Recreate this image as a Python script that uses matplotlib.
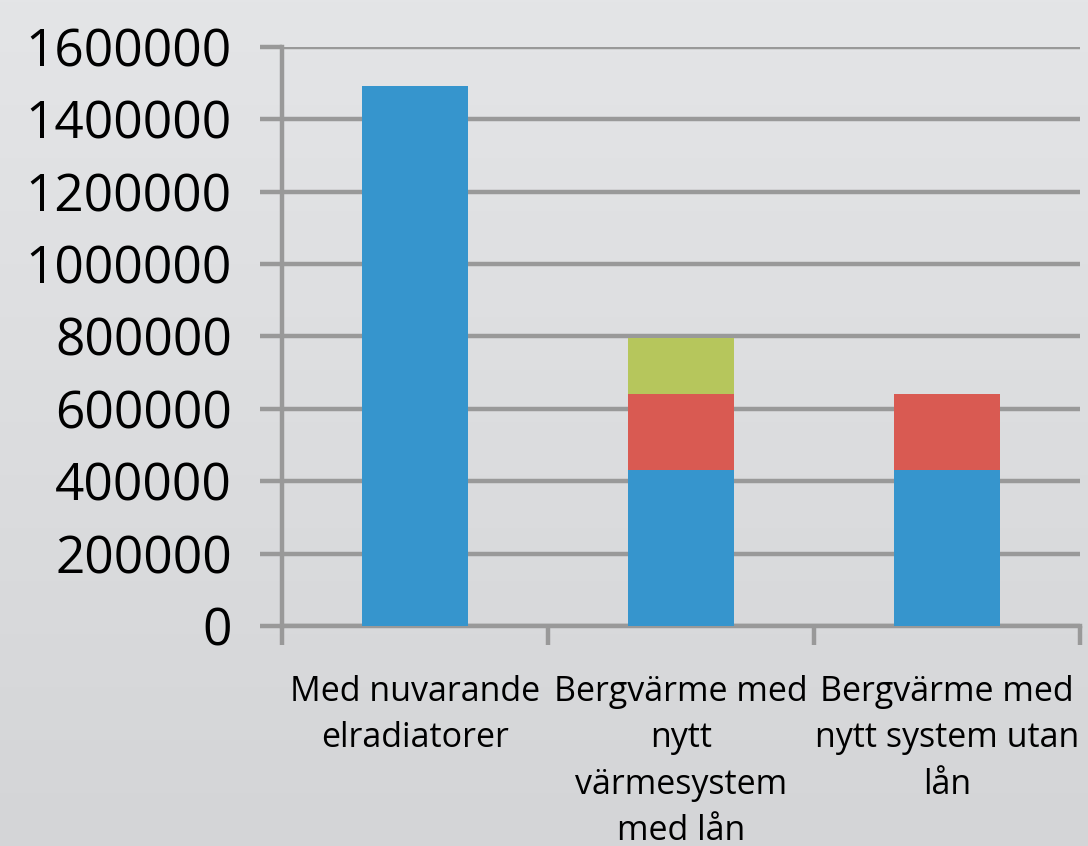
import numpy as np
import matplotlib
matplotlib.use("Agg")
import matplotlib.pyplot as plt
from matplotlib.colors import LinearSegmentedColormap

categories = ["Med nuvarande\nelradiatorer",
              "Bergvärme med\nnytt\nvärmesystem\nmed lån",
              "Bergvärme med\nnytt system utan\nlån"]
blue_vals = [1492000, 430000, 430000]
red_vals = [0, 212000, 212000]
green_vals = [0, 155000, 0]
yticks = [0, 200000, 400000, 600000, 800000, 1000000, 1200000, 1400000, 1600000]

plt.rcParams['font.family'] = ['Open Sans', 'DejaVu Sans']

W, H = 1088, 846
fig = plt.figure(figsize=(W / 100, H / 100), dpi=100)

# background gradient
bg = fig.add_axes([0, 0, 1, 1], zorder=-10)
grad = np.linspace(0, 1, 256).reshape(-1, 1)
cmap = LinearSegmentedColormap.from_list("bg", ["#e4e5e7", "#d4d5d7"])
bg.imshow(grad, aspect='auto', cmap=cmap, extent=[0, 1, 0, 1], origin='upper')
bg.axis('off')

left = 282 / W
right = 1080 / W
top = 1 - 47 / H
bottom = 1 - 626 / H
ax = fig.add_axes([left, bottom, right - left, top - bottom])
ax.patch.set_alpha(0)

x = np.arange(len(categories))
w = 0.4
c_blue = "#3695cd"
c_red = "#d95a52"
c_green = "#b6c65c"
ax.bar(x, blue_vals, w, color=c_blue, zorder=3)
ax.bar(x, red_vals, w, bottom=blue_vals, color=c_red, zorder=3)
b2 = [b + r for b, r in zip(blue_vals, red_vals)]
ax.bar(x, green_vals, w, bottom=b2, color=c_green, zorder=3)

ax.set_xlim(-0.5, 2.5)
ax.set_ylim(0, 1600000)
ax.set_yticks(yticks)
ax.set_yticklabels([str(v) for v in yticks], fontsize=37)
ax.yaxis.grid(True, color="#999999", linewidth=3.2, zorder=1)
ax.set_axisbelow(True)

for s in ['top', 'right']:
    ax.spines[s].set_visible(False)
for s in ['left', 'bottom']:
    ax.spines[s].set_color("#999999")
    ax.spines[s].set_linewidth(3.2)
ax.tick_params(axis='y', length=16, width=3.2, colors="#999999", labelcolor="black", pad=20)

ax.set_xticks([-0.5, 0.5, 1.5, 2.5])
ax.set_xticklabels([])
ax.tick_params(axis='x', length=14, width=3.2, color="#999999")
ax.set_xticks(x, minor=True)
ax.set_xticklabels(categories, minor=True, fontsize=24.5, linespacing=1.48)
ax.tick_params(axis='x', which='minor', length=0, pad=35)

fig.savefig("out.png", dpi=100)
